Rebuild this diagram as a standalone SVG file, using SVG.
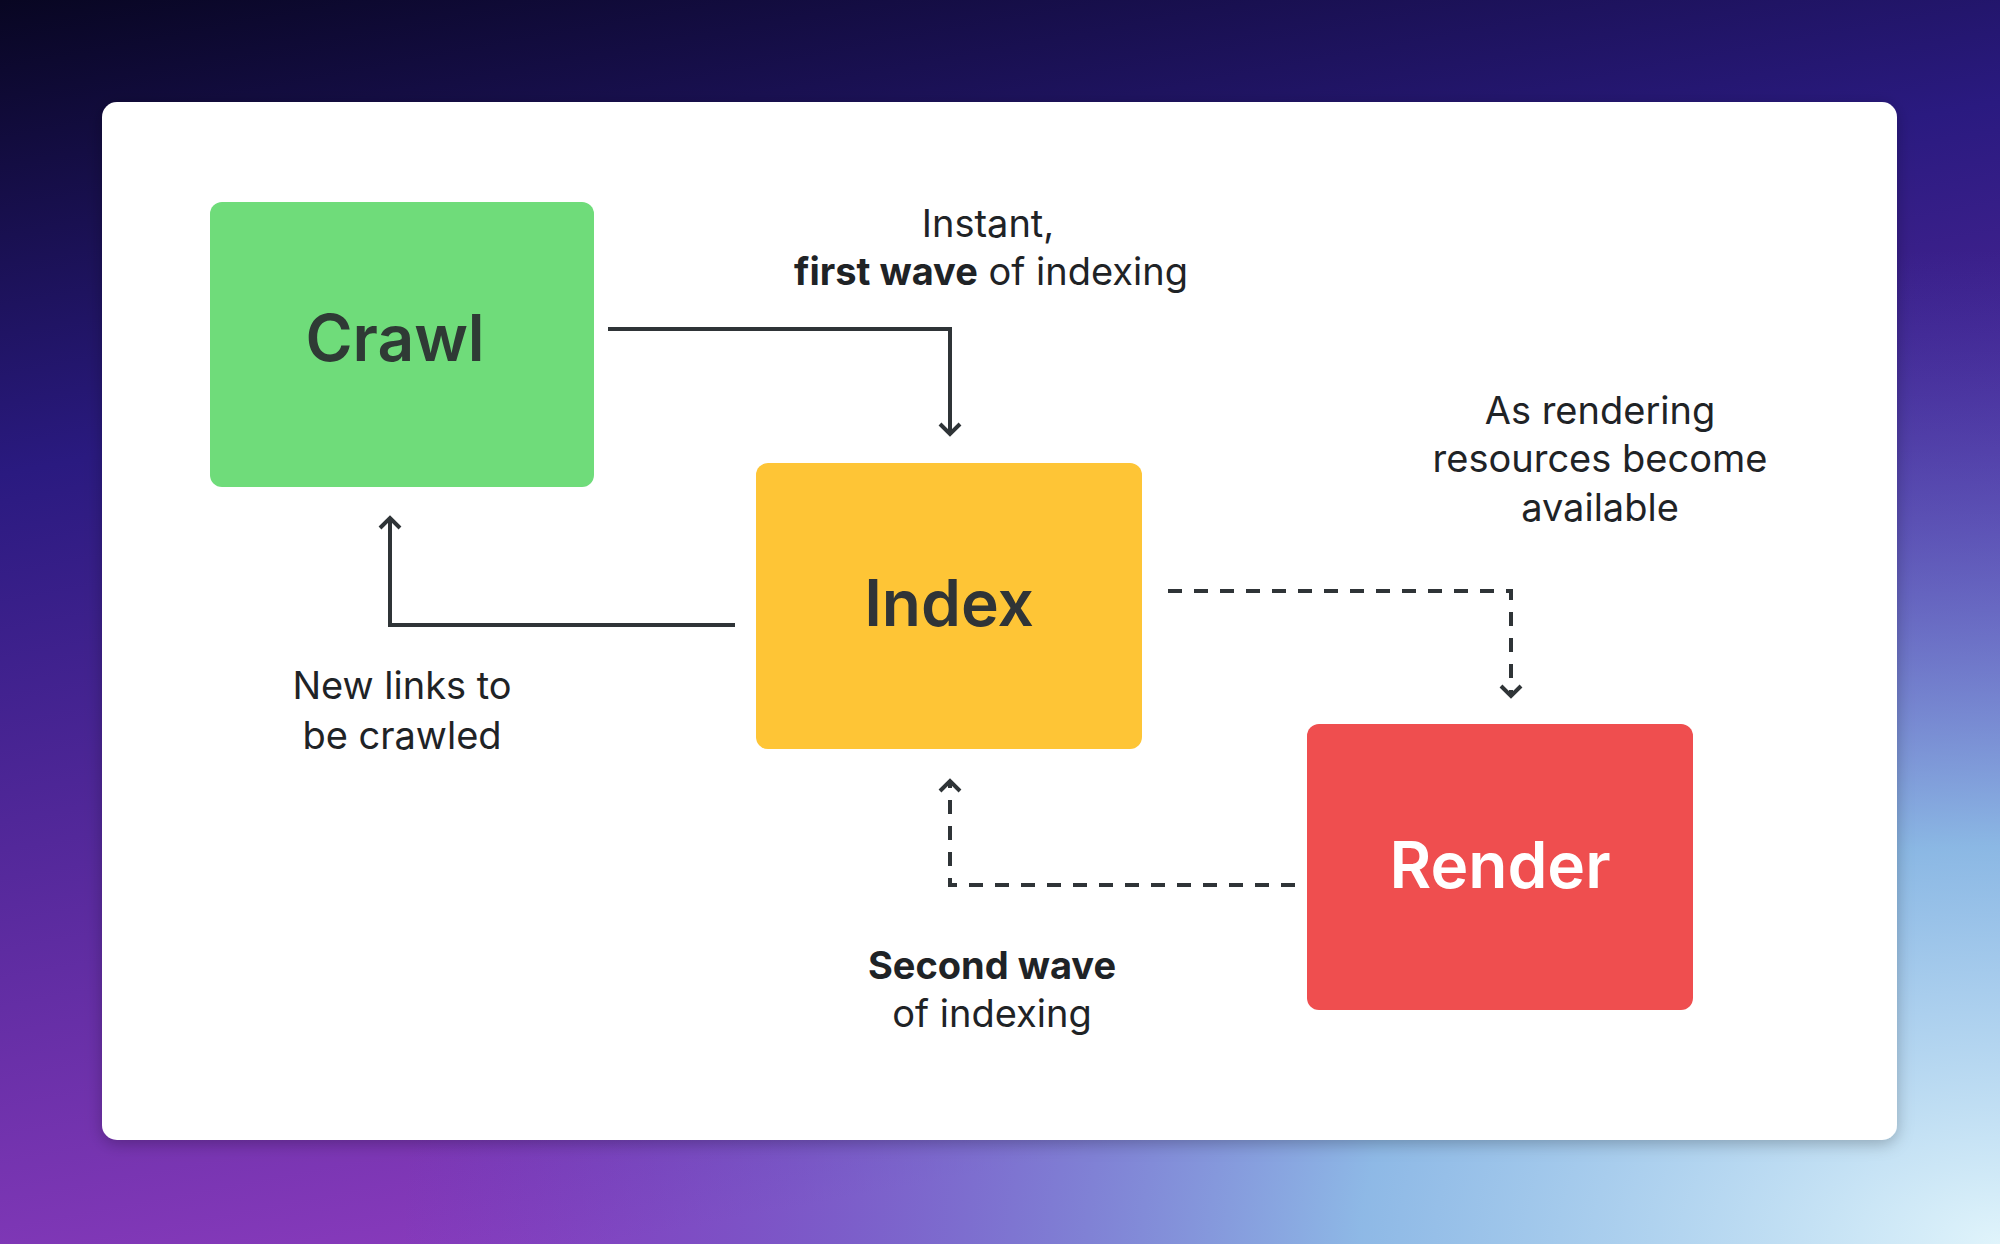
<svg xmlns="http://www.w3.org/2000/svg" width="2000" height="1244" viewBox="0 0 2000 1244">
<defs>
<linearGradient id="bg" x1="0" y1="0" x2="0.3" y2="1">
<stop offset="0" stop-color="#080622"/>
<stop offset="0.35" stop-color="#2a1a80"/>
<stop offset="1" stop-color="#8a3bbd"/>
</linearGradient>
<radialGradient id="bg2" cx="1" cy="1" r="0.8">
<stop offset="0" stop-color="#e0f4fb"/>
<stop offset="0.4" stop-color="#8fd8f0" stop-opacity="0.8"/>
<stop offset="1" stop-color="#4060d0" stop-opacity="0"/>
</radialGradient>
<filter id="sh" x="-5%" y="-5%" width="110%" height="110%"><feDropShadow dx="0" dy="4" stdDeviation="8" flood-opacity="0.25"/></filter>
<marker id="ah" markerWidth="24" markerHeight="24" refX="12" refY="12" orient="auto" markerUnits="userSpaceOnUse">
<path d="M2,2 L12,12 L2,22" fill="none" stroke="#2f3437" stroke-width="4"/>
</marker>
</defs>
<style>
.lbl{font-family:Inter,"Open Sans",sans-serif;font-size:38px;fill:#1f2326;text-anchor:middle}
.node{font-family:Inter,"Open Sans",sans-serif;font-size:64px;font-weight:600;text-anchor:middle}
.c{fill:none;stroke:#2f3437;stroke-width:4;marker-end:url(#ah)}
.d{stroke-dasharray:14 12}
</style>
<rect width="2000" height="1244" fill="url(#bg)"/>
<rect width="2000" height="1244" fill="url(#bg2)"/>
<rect x="102" y="102" width="1795" height="1038" rx="15" fill="#ffffff" filter="url(#sh)"/>
<g id="crawl"><rect x="210" y="202" width="384" height="285" rx="12" fill="#6fdc7a"/><text class="node" x="395" y="361" fill="#2f3a35">Crawl</text></g>
<g id="index"><rect x="756" y="463" width="386" height="286" rx="12" fill="#fec536"/><text class="node" x="949" y="626" fill="#2f3437">Index</text></g>
<g id="render"><rect x="1307" y="724" width="386" height="286" rx="12" fill="#ef4e4f"/><text class="node" x="1500" y="888" fill="#ffffff">Render</text></g>
<g id="connectors">
<path class="c" d="M608,329 H950 V434"/>
<path class="c" d="M735,625 H390 V518"/>
<path class="c d" d="M1168,591 H1511 V696"/>
<path class="c d" d="M1295,885 H950 V781"/>
</g>
<g id="labels">
<text class="lbl" x="988" y="237">Instant,</text>
<text class="lbl" x="991" y="285"><tspan font-weight="700">first wave</tspan> of indexing</text>
<text class="lbl" x="1600" y="424">As rendering</text>
<text class="lbl" x="1600" y="472">resources become</text>
<text class="lbl" x="1600" y="521">available</text>
<text class="lbl" x="402" y="699">New links to</text>
<text class="lbl" x="402" y="749">be crawled</text>
<text class="lbl" x="992" y="979" font-weight="700">Second wave</text>
<text class="lbl" x="992" y="1027">of indexing</text>
</g>
</svg>
